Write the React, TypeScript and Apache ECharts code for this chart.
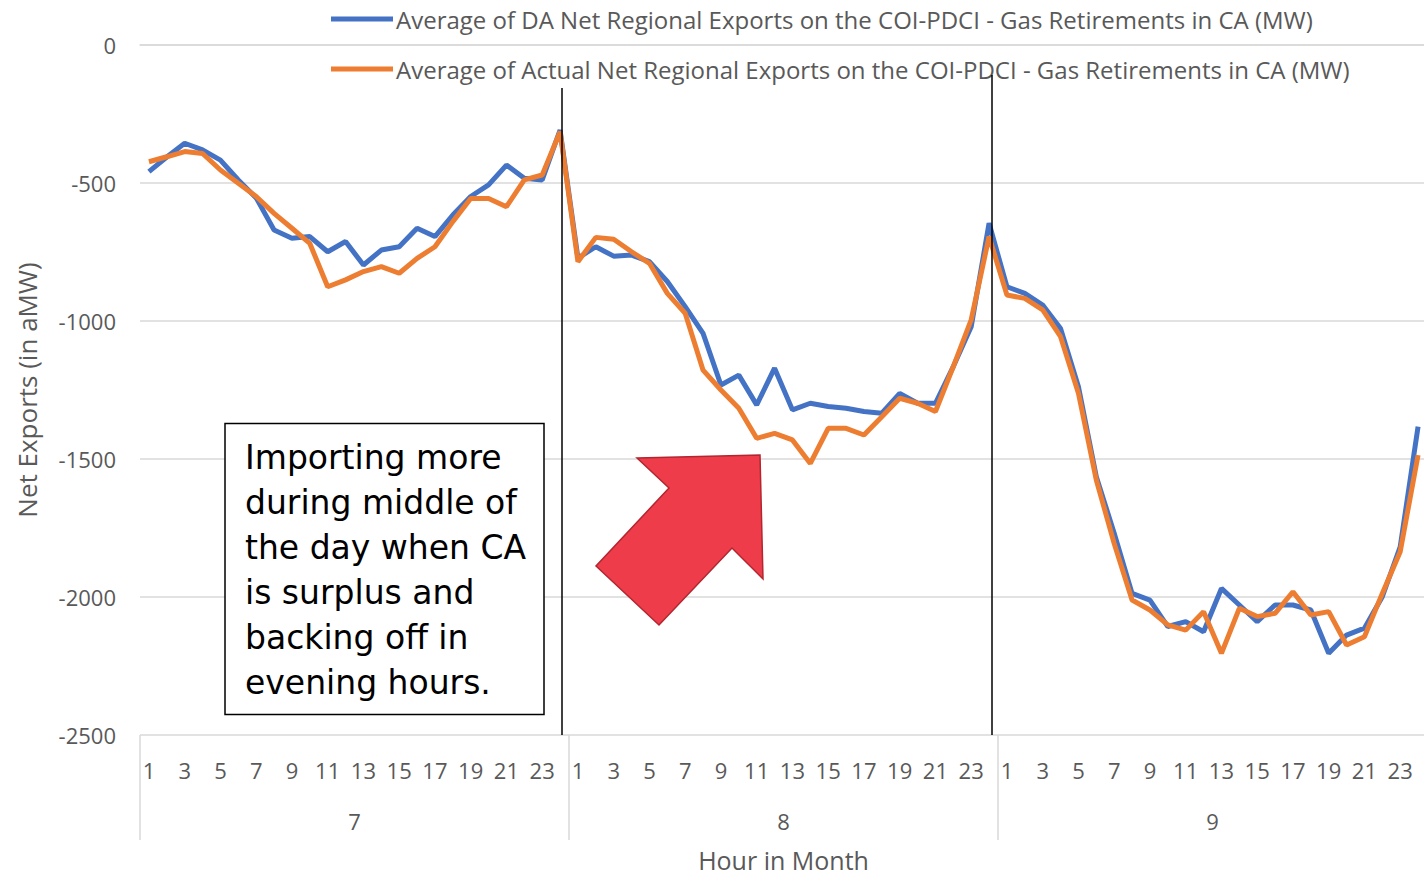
import React, { useEffect, useRef } from "react";
import * as echarts from "echarts";

const months = ["7", "8", "9"];
const hours = Array.from({ length: 24 }, (_, i) => String(i + 1));

const daJul = [-459, -406, -356, -380, -417, -489, -554, -670, -700, -694, -749, -712, -797, -743, -731, -664, -694, -616, -549, -507, -435, -483, -489, -308];
const daAug = [-772, -731, -765, -761, -785, -857, -948, -1045, -1232, -1196, -1304, -1171, -1322, -1298, -1310, -1316, -1328, -1334, -1262, -1298, -1298, -1165, -1021, -646];
const daSep = [-876, -900, -942, -1027, -1238, -1564, -1769, -1987, -2011, -2107, -2089, -2126, -1969, -2029, -2089, -2029, -2029, -2047, -2204, -2138, -2113, -1999, -1818, -1383];

const actJul = [-423, -405, -386, -393, -453, -501, -549, -610, -664, -719, -876, -851, -821, -803, -827, -773, -731, -640, -556, -556, -586, -489, -471, -314];
const actAug = [-785, -697, -704, -749, -791, -900, -972, -1178, -1250, -1316, -1425, -1407, -1431, -1516, -1389, -1389, -1413, -1347, -1280, -1298, -1328, -1165, -996, -694];
const actSep = [-906, -918, -960, -1057, -1262, -1576, -1806, -2011, -2047, -2101, -2120, -2053, -2204, -2041, -2071, -2059, -1981, -2065, -2053, -2174, -2144, -1987, -1836, -1486];

const seriesNames = [
  "Average of DA Net Regional Exports on the COI-PDCI - Gas Retirements in CA (MW)",
  "Average of Actual Net Regional Exports on the COI-PDCI - Gas Retirements in CA (MW)",
];

const annotationLines = [
  "Importing more",
  "during middle of",
  "the day when CA",
  "is surplus and",
  "backing off in",
  "evening hours.",
];

export default function App() {
  const ref = useRef<HTMLDivElement>(null);
  useEffect(() => {
    if (!ref.current) return;
    const chart = echarts.init(ref.current, null, { renderer: "svg" });
    const hourCats = [...hours, ...hours, ...hours];
    const gray = "#595959";
    const font = "'Open Sans', sans-serif";
    chart.setOption({
      animation: false,
      backgroundColor: "#ffffff",
      textStyle: { fontFamily: font },
      legend: {
        data: seriesNames,
        orient: "vertical",
        left: 326,
        top: 2,
        itemWidth: 62,
        itemHeight: 5,
        icon: "rect",
        itemGap: 26,
        textStyle: { fontSize: 24, color: gray, fontFamily: font, padding: [0, 0, 0, -2] },
      },
      grid: { left: 140, top: 45, bottom: 142, right: -3, outerBoundsMode: "none", containLabel: false },
      xAxis: [
        {
          type: "category",
          data: hourCats,
          boundaryGap: true,
          axisLine: { show: true, lineStyle: { color: "#d9d9d9", width: 1.5 } },
          axisTick: { show: false },
          axisLabel: { interval: 1, margin: 24, fontSize: 22, color: gray, fontFamily: font },
          splitLine: { show: false },
        },
        {
          type: "category",
          data: months,
          position: "bottom",
          boundaryGap: true,
          axisLine: { show: false },
          axisTick: { show: true, interval: 0, length: 105, lineStyle: { color: "#d9d9d9", width: 1.5 } },
          axisLabel: { margin: 75, fontSize: 22, color: gray, fontFamily: font },
          splitLine: { show: false },
          name: "Hour in Month",
          nameLocation: "middle",
          nameGap: 112,
          nameTextStyle: { fontSize: 25, color: gray, fontFamily: font },
        },
      ],
      yAxis: {
        type: "value",
        min: -2500,
        max: 0,
        interval: 500,
        axisLine: { show: false },
        axisTick: { show: false },
        axisLabel: {
          margin: 24,
          fontSize: 22,
          color: gray,
          fontFamily: font,
          formatter: (v: number) => String(v),
        },
        splitLine: { lineStyle: { color: "#d9d9d9", width: 1.5 } },
        name: "Net Exports (in aMW)",
        nameLocation: "middle",
        nameGap: 100,
        nameRotate: 90,
        nameTextStyle: { fontSize: 26, color: gray, fontFamily: font },
      },
      series: [
        {
          name: seriesNames[0],
          type: "line",
          data: [...daJul, ...daAug, ...daSep],
          symbol: "none",
          lineStyle: { color: "#4472C4", width: 5 },
          itemStyle: { color: "#4472C4" },
        },
        {
          name: seriesNames[1],
          type: "line",
          data: [...actJul, ...actAug, ...actSep],
          symbol: "none",
          lineStyle: { color: "#ED7D31", width: 5 },
          itemStyle: { color: "#ED7D31" },
        },
      ],
      graphic: [
        { type: "line", shape: { x1: 562, y1: 88, x2: 562, y2: 735 }, style: { stroke: "#000", lineWidth: 1.5 }, z: 10 },
        { type: "line", shape: { x1: 992, y1: 75, x2: 992, y2: 735 }, style: { stroke: "#000", lineWidth: 1.5 }, z: 10 },
        {
          type: "polygon",
          shape: {
            points: [
              [637, 458],
              [760, 455],
              [763, 579],
              [732, 548],
              [659, 625],
              [596, 566],
              [669, 488],
            ],
          },
          style: { fill: "#EF3C4A", stroke: "#B2262F", lineWidth: 1.5 },
          z: 10,
        },
        {
          type: "rect",
          shape: { x: 225, y: 423.5, width: 319, height: 291 },
          style: { fill: "#ffffff", stroke: "#000000", lineWidth: 1.5 },
          z: 10,
        },
        {
          type: "text",
          x: 245,
          y: 434.5,
          style: {
            text: annotationLines.join("\n"),
            fontSize: 33,
            lineHeight: 45,
            fontFamily: "'DejaVu Sans', sans-serif",
            fill: "#000000",
            verticalAlign: "top",
            align: "left",
          },
          z: 11,
        },
      ],
    });
    return () => chart.dispose();
  }, []);
  return (
    <div
      ref={ref}
      style={{ position: "fixed", left: 0, top: 0, width: 1424, height: 877 }}
    />
  );
}
